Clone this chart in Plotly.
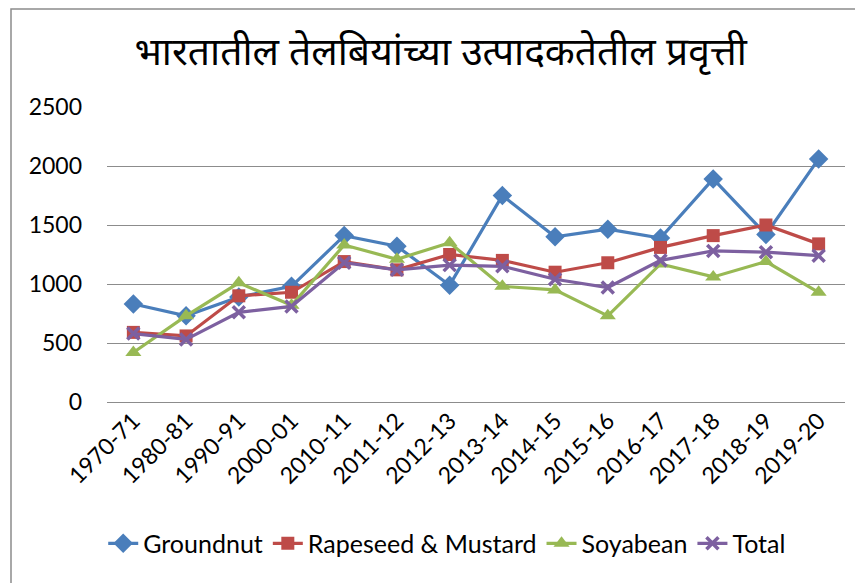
import plotly.graph_objects as go

categories = ["1970-71", "1980-81", "1990-91", "2000-01", "2010-11", "2011-12", "2012-13",
              "2013-14", "2014-15", "2015-16", "2016-17", "2017-18", "2018-19", "2019-20"]
groundnut = [830, 730, 890, 980, 1410, 1320, 990, 1750, 1400, 1465, 1390, 1890, 1420, 2060]
rapeseed = [590, 560, 900, 930, 1190, 1120, 1250, 1200, 1100, 1180, 1310, 1410, 1500, 1340]
soyabean = [420, 730, 1010, 820, 1330, 1210, 1350, 980, 950, 730, 1170, 1060, 1190, 930]
total = [580, 530, 760, 810, 1180, 1120, 1160, 1150, 1040, 970, 1200, 1280, 1270, 1240]
y_ticks = [0, 500, 1000, 1500, 2000, 2500]
title_text = "भारतातील तेलबियांच्या उत्पादकतेतील प्रवृत्ती"

series = [
    ("Groundnut", groundnut, "#4A7EBB", "diamond", 15),
    ("Rapeseed & Mustard", rapeseed, "#BE4B48", "square", 13),
    ("Soyabean", soyabean, "#98B954", "triangle-up", 14),
    ("Total", total, "#7D60A0", "x-thin", 12),
]

fig = go.Figure()
for name, vals, color, sym, size in series:
    marker = dict(symbol=sym, size=size, color=color)
    if sym == "x-thin":
        marker["line"] = dict(color=color, width=3.5)
    fig.add_trace(go.Scatter(
        x=categories, y=vals, name=name, mode="lines+markers",
        line=dict(color=color, width=3.2), marker=marker,
    ))

font_main = "Lato, Carlito, Calibri, sans-serif"

# Page body has an 8px default margin, so figure coordinates are offset by 8px.
W, H = 855, 575
fig.update_layout(
    width=W, height=H,
    paper_bgcolor="white", plot_bgcolor="white",
    margin=dict(l=99, r=18, t=99, b=181),
    title=dict(text=title_text, x=0.506, xanchor="center", y=1 - 43 / H, yanchor="middle",
               font=dict(size=39, color="black", family="Noto Sans Devanagari, Noto Sans, sans-serif")),
    legend=dict(orientation="h", x=0.461, xanchor="center", y=-0.48, yanchor="middle",
                font=dict(size=25, color="black", family=font_main),
                itemwidth=30, tracegroupgap=0),
    showlegend=True,
)
fig.update_xaxes(
    type="category", range=[-0.5, 13.5], tickangle=-45,
    tickfont=dict(size=23, color="black", family=font_main),
    showgrid=False, showline=False, ticks="",
)
fig.update_yaxes(
    range=[0, 2500], tickvals=y_ticks,
    tickfont=dict(size=23, color="black", family=font_main),
    showgrid=True, gridcolor="#8C8C8C", gridwidth=1.3,
    zeroline=True, zerolinecolor="#8C8C8C", zerolinewidth=1.3,
    showline=False, ticks="", ticklabelstandoff=24,
)
pw, ph = W - 99 - 18, H - 99 - 181
fig.add_shape(type="rect", xref="paper", yref="paper",
              x0=(3 - 99) / pw, x1=(870 - 99) / pw,
              y0=(394 - 600) / ph, y1=(394 - 1) / ph,
              line=dict(color="#8C8C8C", width=1.5), fillcolor="rgba(0,0,0,0)", layer="below")

fig.write_html("out.html")
